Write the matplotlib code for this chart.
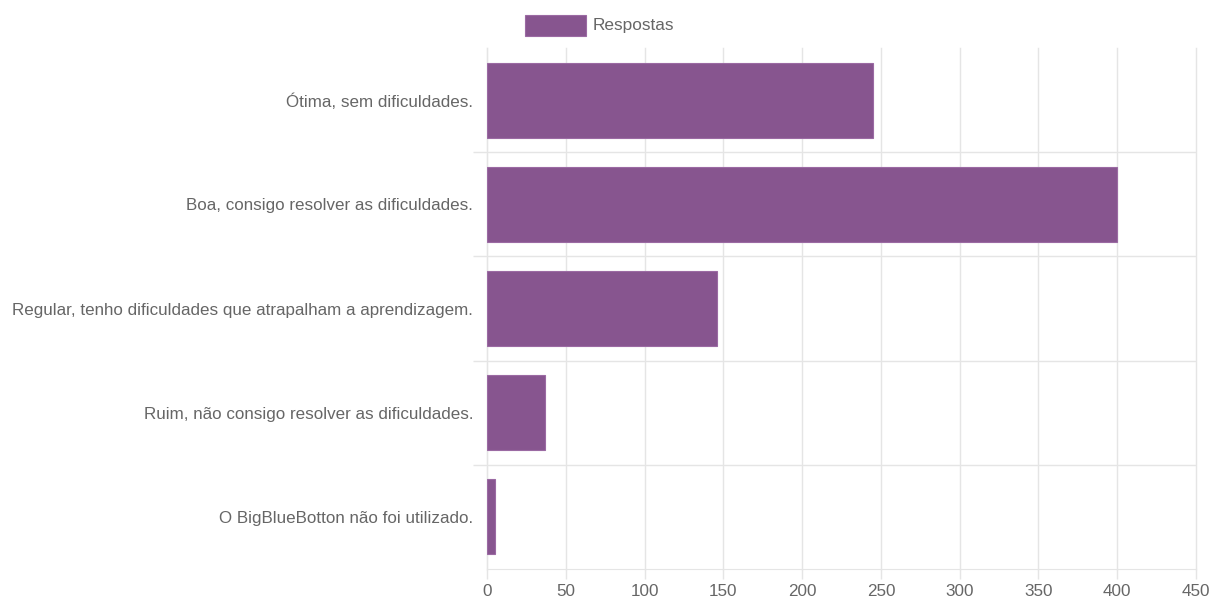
import matplotlib.pyplot as plt
from matplotlib.patches import Rectangle
from matplotlib.ticker import FixedLocator

# dados
categorias = [
    "Ótima, sem dificuldades.",
    "Boa, consigo resolver as dificuldades.",
    "Regular, tenho dificuldades que atrapalham a aprendizagem.",
    "Ruim, não consigo resolver as dificuldades.",
    "O BigBlueBotton não foi utilizado.",
]
respostas = [245, 400, 146, 37, 5]
x_ticks = [0, 50, 100, 150, 200, 250, 300, 350, 400, 450]

cor_barra = "#87558f"
cor_borda = "#9b6aa3"
cor_texto = "#666666"
cor_grade = "#e5e5e5"

plt.rcParams["font.family"] = ["Liberation Sans", "DejaVu Sans"]

fig = plt.figure(figsize=(12.11, 5.99), dpi=100)
ax = fig.add_axes([487 / 1211, 30 / 599, 709 / 1211, 521 / 599])

pos = list(range(len(categorias)))
ax.barh(pos, respostas, height=0.72, color=cor_barra, edgecolor=cor_borda, linewidth=0.8, zorder=3)

ax.set_xlim(0, 450)
ax.set_ylim(len(categorias) - 0.5, -0.5)

ax.set_xticks(x_ticks)
ax.set_xticklabels([str(v) for v in x_ticks])
ax.set_yticks(pos)
ax.set_yticklabels(categorias)
ax.yaxis.set_minor_locator(FixedLocator([p + 0.5 for p in pos[:-1]]))

ax.tick_params(axis="x", length=7, width=1, color=cor_grade, labelcolor=cor_texto, labelsize=12.3, pad=4)
ax.tick_params(axis="y", which="major", length=0, labelsize=12.25, labelcolor=cor_texto, pad=10)
ax.tick_params(axis="y", which="minor", length=10, width=1, color=cor_grade)

ax.grid(axis="x", color=cor_grade, linewidth=1, zorder=0)
ax.grid(axis="y", which="minor", color=cor_grade, linewidth=1, zorder=0)
for linha in ax.get_xgridlines():
    linha.set_clip_on(False)

for lado in ["top", "right"]:
    ax.spines[lado].set_visible(False)
for lado in ["left", "bottom"]:
    ax.spines[lado].set_color(cor_grade)

# legenda no estilo Chart.js
fig.patches.append(Rectangle((525 / 1211, 1 - 36 / 599), 61 / 1211, 21 / 599,
                             transform=fig.transFigure, facecolor=cor_barra,
                             edgecolor=cor_borda, linewidth=0.8))
fig.text(593 / 1211, 1 - 25.5 / 599, "Respostas", color=cor_texto, fontsize=12.4, va="center", ha="left")

fig.savefig("out.png", dpi=100, facecolor="white")
